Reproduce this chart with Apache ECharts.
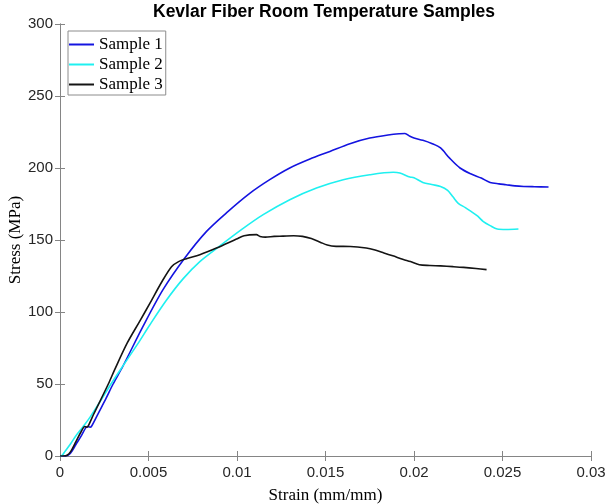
<!DOCTYPE html>
<html>
<head>
<meta charset="utf-8">
<script src="https://cdn.jsdelivr.net/npm/echarts@6/dist/echarts.min.js"></script>
<style>html,body{margin:0;padding:0;background:#fff}#c{width:608px;height:504px}</style>
</head>
<body>
<div id="c"></div>
<script>
// ---- data ----
var seriesNames = ['Sample 1', 'Sample 2', 'Sample 3'];
var xTickLabels = ['0', '0.005', '0.01', '0.015', '0.02', '0.025', '0.03'];
var yTickLabels = ['0', '50', '100', '150', '200', '250', '300'];

var strain1 = [0, 0.0003, 0.00045, 0.0006, 0.0009, 0.0012, 0.00145, 0.00155, 0.0017, 0.0018, 0.0022, 0.0026, 0.003, 0.00356, 0.00469, 0.00582, 0.00705, 0.00828, 0.0095, 0.01072, 0.01185, 0.01298, 0.01412, 0.01525, 0.01638, 0.0175, 0.01864, 0.0192, 0.01949, 0.01977, 0.02, 0.0205, 0.021, 0.0215, 0.022, 0.0226, 0.0232, 0.0238, 0.0243, 0.0248, 0.0252, 0.0257, 0.0262, 0.0268, 0.0276];
var stress1 = [0, 0, 0.5, 2, 8, 14, 19.5, 20.5, 20, 21, 30.5, 40, 50, 62.5, 90, 115.5, 137.5, 156, 169.9, 182.4, 191.9, 200, 206.2, 211.5, 216.9, 220.8, 223.1, 223.8, 224, 222, 220.8, 219.2, 217, 213.9, 207, 200, 196, 193, 190, 189, 188.4, 187.6, 187.2, 187, 186.8];

var strain2 = [0, 0.0001, 0.0003, 0.0006, 0.0009, 0.00128, 0.0017, 0.0023, 0.00288, 0.00347, 0.0044, 0.00507, 0.006, 0.00695, 0.0079, 0.009, 0.01025, 0.01148, 0.01298, 0.01449, 0.016, 0.0175, 0.01883, 0.0192, 0.01977, 0.02, 0.0205, 0.021, 0.0215, 0.0219, 0.0222, 0.0225, 0.0229, 0.0232, 0.0236, 0.0239, 0.0243, 0.0247, 0.0252, 0.0259];
var stress2 = [0, 0.2, 3.5, 8.5, 14, 20, 27, 38.5, 50, 61, 78, 91, 108, 123, 135, 145.6, 157.2, 167.6, 178, 186.1, 191.9, 195.3, 197, 196.5, 193.7, 193.3, 190, 188.5, 187.2, 184.5, 180, 175.5, 172.5, 170, 166.5, 163, 160, 157.6, 157.3, 157.6];

var strain3 = [0, 0.0002, 0.0004, 0.0006, 0.0009, 0.0012, 0.0014, 0.0015, 0.0016, 0.0019, 0.00273, 0.00309, 0.0038, 0.0045, 0.0051, 0.00573, 0.0063, 0.0067, 0.00714, 0.0079, 0.00884, 0.00997, 0.0104, 0.0111, 0.0113, 0.0116, 0.0121, 0.0126, 0.0132, 0.0137, 0.0142, 0.0147, 0.0151, 0.0156, 0.0164, 0.0173, 0.0178, 0.0183, 0.0188, 0.0194, 0.0198, 0.0203, 0.0209, 0.0215, 0.0222, 0.0228, 0.0235, 0.0241];
var stress3 = [0, 0, 0.5, 3, 10, 17, 20.5, 20, 21, 29, 50, 60, 78.5, 93.5, 106.5, 120.5, 131.5, 135, 137, 139.8, 144.4, 150.7, 153, 153.7, 152.5, 152, 152.5, 152.7, 153, 152.5, 151, 148.5, 146.5, 145.6, 145.5, 144.4, 143, 141, 139, 136.5, 135, 132.8, 132.3, 132, 131.5, 131, 130.2, 129.4];

var colors = ['#1414e0', '#1ff0f0', '#141414'];

function zip(a, b) { return a.map(function (v, i) { return [v, b[i]]; }); }

var axisGray = '#858585';
var labelColor = '#262626';

function xFmt(v) { var i = Math.round(v / 0.005); return xTickLabels[i] !== undefined ? xTickLabels[i] : ''; }
function yFmt(v) { var i = Math.round(v / 50); return yTickLabels[i] !== undefined ? yTickLabels[i] : ''; }

function lineSeries(i, xs, ys) {
  return {
    name: seriesNames[i], type: 'line', data: zip(xs, ys), symbol: 'none',
    smooth: 0.3,
    xAxisIndex: 0, yAxisIndex: 0, color: colors[i],
    lineStyle: { width: 1.6, color: colors[i] }
  };
}

var chart = echarts.init(document.getElementById('c'), null, { renderer: 'canvas' });
chart.setOption({
  animation: false,
  backgroundColor: '#fff',
  title: {
    text: 'Kevlar Fiber Room Temperature Samples',
    left: 324, top: 3, textAlign: 'center', padding: 0,
    textStyle: { fontFamily: 'Liberation Sans', fontWeight: 'bold', fontSize: 17.5, color: '#000' }
  },
  legend: {
    orient: 'vertical', left: 68, top: 31,
    padding: [5, 3, 2, 1], itemGap: 3, itemWidth: 25, itemHeight: 2, icon: 'rect',
    borderColor: '#8c8c8c', borderWidth: 1, backgroundColor: '#fff',
    textStyle: { fontFamily: 'Liberation Serif', fontSize: 17, color: '#000' },
    data: seriesNames
  },
  grid: { left: 60, right: 17, top: 24, bottom: 48, outerBoundsMode: 'none', containLabel: false },
  xAxis: [{
    type: 'value', min: 0, max: 0.03, interval: 0.005,
    name: 'Strain (mm/mm)', nameLocation: 'middle', nameGap: 31, nameMoveOverlap: false,
    nameTextStyle: { fontFamily: 'Liberation Serif', fontSize: 17, color: '#000' },
    axisLine: { show: true, lineStyle: { color: axisGray, width: 1 } },
    axisTick: { show: true, inside: true, length: 5, lineStyle: { color: axisGray } },
    axisLabel: { formatter: xFmt, margin: 9, fontFamily: 'Liberation Sans', fontSize: 15, color: labelColor },
    splitLine: { show: false }
  }, {
    type: 'value', min: 0, max: 0.03, interval: 0.005, position: 'top',
    axisLine: { show: true, lineStyle: { color: axisGray, width: 1 } },
    axisTick: { show: true, inside: true, length: 5, lineStyle: { color: axisGray } },
    axisLabel: { show: false }, splitLine: { show: false }
  }],
  yAxis: [{
    type: 'value', min: 0, max: 300, interval: 50,
    name: 'Stress (MPa)', nameLocation: 'middle', nameGap: 36, nameMoveOverlap: false,
    nameTextStyle: { fontFamily: 'Liberation Serif', fontSize: 17, color: '#000' },
    axisLine: { show: true, lineStyle: { color: axisGray, width: 1 } },
    axisTick: { show: true, inside: true, length: 5, lineStyle: { color: axisGray } },
    axisLabel: { formatter: yFmt, margin: 7, fontFamily: 'Liberation Sans', fontSize: 15, color: labelColor },
    splitLine: { show: false }
  }, {
    type: 'value', min: 0, max: 300, interval: 50, position: 'right',
    axisLine: { show: true, lineStyle: { color: axisGray, width: 1 } },
    axisTick: { show: true, inside: true, length: 5, lineStyle: { color: axisGray } },
    axisLabel: { show: false }, splitLine: { show: false }
  }],
  series: [
    lineSeries(0, strain1, stress1),
    lineSeries(1, strain2, stress2),
    lineSeries(2, strain3, stress3)
  ]
});
</script>
</body>
</html>
